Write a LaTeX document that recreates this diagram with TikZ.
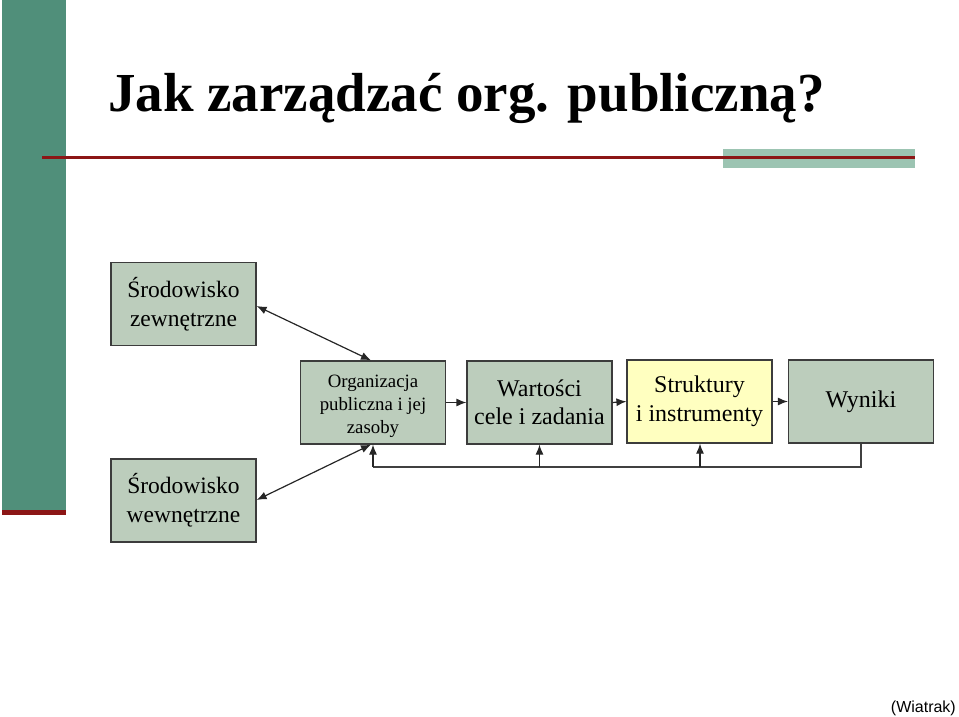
\documentclass[tikz,border=0pt]{standalone}
\usepackage{fontspec}
\setmainfont{Liberation Serif}
\newfontfamily\arialfont{Liberation Sans}
\usetikzlibrary{arrows.meta}
\definecolor{bargreen}{RGB}{80,143,122}
\definecolor{lightgreen}{RGB}{156,196,178}
\definecolor{linered}{RGB}{140,22,22}
\definecolor{boxfill}{RGB}{188,205,188}
\definecolor{boxyellow}{RGB}{255,255,192}
\definecolor{boxline}{RGB}{60,60,60}
\tikzset{
  boxnode/.style={draw=boxline, line width=1.2pt, fill=boxfill, inner sep=0pt,
    minimum width=145pt, minimum height=83pt, align=center},
  tip/.tip={Latex[length=10pt,width=8pt]},
  conn/.style={line width=1.2pt, draw=black!85, -tip},
  dconn/.style={line width=1.2pt, draw=black!85, tip-tip},
  fb/.style={line width=1.2pt, draw=black!75}
}
\begin{document}
\begin{tikzpicture}[x=1pt,y=-1pt]
\useasboundingbox (0,0) rectangle (959,717);
% decorations
\fill[bargreen] (2,0) rectangle (66,511);
\fill[linered] (2,510) rectangle (66,515);
\fill[lightgreen] (723,149) rectangle (915,168);
\fill[linered] (42,156) rectangle (915,159);
% title
\node[anchor=base west, inner sep=0pt, font=\fontsize{55}{60}\selectfont\bfseries] (title) at (108,111) {Jak zarządzać org. publiczną?};
% boxes
\node[boxnode, font=\fontsize{23.5}{29}\selectfont] (zew) at (183.5,304) {Środowisko\\zewnętrzne};
\node[boxnode, font=\fontsize{23.5}{29}\selectfont] (wew) at (183.5,500.5) {Środowisko\\wewnętrzne};
\node[boxnode] (org) at (373,402.5) {};
\node[inner sep=0pt, align=center, font=\fontsize{18.8}{23}\selectfont] (orgtxt) at ([yshift=-4pt]org.center) {Organizacja\\publiczna i jej\\zasoby};
\node[boxnode, font=\fontsize{24}{28.5}\selectfont] (war) at (539.5,402.5) {Wartości\\cele i zadania};
\node[boxnode, fill=boxyellow, font=\fontsize{24}{28.5}\selectfont] (str) at (699.5,401.5) {Struktury\\i instrumenty};
\node[boxnode, font=\fontsize{24}{28.5}\selectfont] (wyn) at (861,401.5) {Wyniki};
% horizontal flow
\draw[conn] (org.east) -- (war.west);
\draw[conn] (war.east) -- (str.west);
\draw[conn] (str.east) -- (wyn.west);
% environment links
\coordinate (orgtop) at (371,361);
\coordinate (orgbot) at (371,444);
\coordinate (zewr) at (256,306);
\coordinate (wewr) at (256,500);
\draw[dconn] (zew.east |- zewr) -- (org.north -| orgtop);
\draw[dconn] (wew.east |- wewr) -- (org.south -| orgbot);
% feedback
\coordinate (fbl) at (373,467);
\coordinate (fbr) at (861,467);
\draw[fb] (wyn.south) -- (fbr) -- (fbl);
\draw[conn] (fbl) -- (org.south -| fbl);
\draw[conn] (war.south |- fbl) -- (war.south);
\draw[conn] (700,467) -- (str.south -| 700,0);
% credit
\node[anchor=base east, inner sep=0pt, font=\arialfont\fontsize{16}{18}\selectfont] (credit) at (956,712) {(Wiatrak)};
\end{tikzpicture}
\end{document}
